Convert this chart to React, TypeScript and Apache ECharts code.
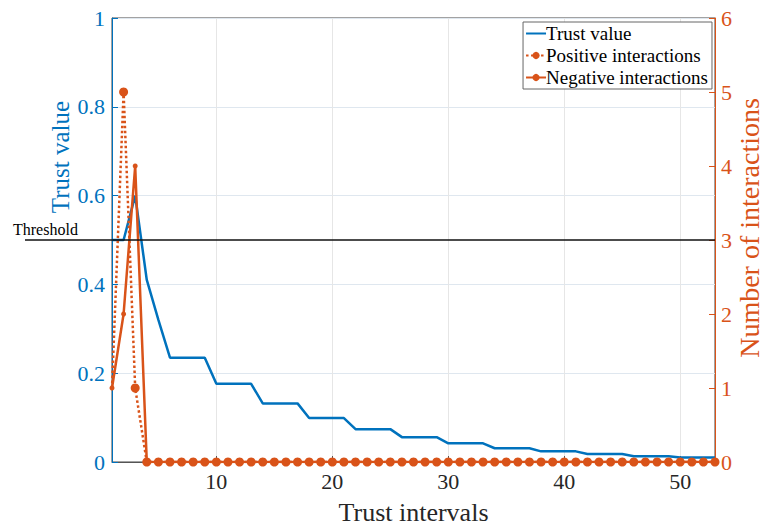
import React, { useEffect, useRef } from "react";
import * as echarts from "echarts";

const intervals = [
  1, 2, 3, 4, 5, 6, 7, 8, 9, 10, 11, 12, 13, 14, 15, 16, 17, 18, 19, 20,
  21, 22, 23, 24, 25, 26, 27, 28, 29, 30, 31, 32, 33, 34, 35, 36, 37, 38, 39, 40,
  41, 42, 43, 44, 45, 46, 47, 48, 49, 50, 51, 52, 53,
];

const trustValue = [
  0.5, 0.5, 0.6, 0.41, 0.32,
  0.235, 0.235, 0.235, 0.235,
  0.176, 0.176, 0.176, 0.176,
  0.132, 0.132, 0.132, 0.132,
  0.099, 0.099, 0.099, 0.099,
  0.074, 0.074, 0.074, 0.074,
  0.056, 0.056, 0.056, 0.056,
  0.042, 0.042, 0.042, 0.042,
  0.031, 0.031, 0.031, 0.031,
  0.024, 0.024, 0.024, 0.024,
  0.018, 0.018, 0.018, 0.018,
  0.013, 0.013, 0.013, 0.013,
  0.01, 0.01, 0.01, 0.01,
];

const positiveInteractions = [
  1, 5, 1, 0, 0, 0, 0, 0, 0, 0, 0, 0, 0, 0, 0, 0, 0, 0, 0, 0,
  0, 0, 0, 0, 0, 0, 0, 0, 0, 0, 0, 0, 0, 0, 0, 0, 0, 0, 0, 0,
  0, 0, 0, 0, 0, 0, 0, 0, 0, 0, 0, 0, 0,
];

const negativeInteractions = [
  1, 2, 4, 0, 0, 0, 0, 0, 0, 0, 0, 0, 0, 0, 0, 0, 0, 0, 0, 0,
  0, 0, 0, 0, 0, 0, 0, 0, 0, 0, 0, 0, 0, 0, 0, 0, 0, 0, 0, 0,
  0, 0, 0, 0, 0, 0, 0, 0, 0, 0, 0, 0, 0,
];

const xTickLabels = [10, 20, 30, 40, 50];
const thresholdValue = 0.5;

const BLUE = "#0072BD";
const ORANGE = "#D95319";
const FONT = "'Liberation Serif', 'Times New Roman', serif";

export default function App() {
  const ref = useRef<HTMLDivElement>(null);

  useEffect(() => {
    if (!ref.current) return;
    const chart = echarts.init(ref.current, undefined, { renderer: "svg" });

    const option: any = {
      animation: false,
      backgroundColor: "#ffffff",
      grid: {
        left: 112,
        right: 49,
        top: 18,
        bottom: 68,
        show: true,
        borderColor: "#444",
        borderWidth: 1,
        backgroundColor: "transparent",
      },
      legend: {
        orient: "vertical",
        right: 52,
        top: 22,
        padding: [2, 4, 2, 2],
        itemGap: 3,
        itemWidth: 20,
        itemHeight: 9,
        backgroundColor: "#fff",
        borderColor: "#666",
        borderWidth: 1,
        borderRadius: 0,
        align: "left",
        textStyle: { fontFamily: FONT, fontSize: 19, color: "#000", padding: [0, 0, 0, -5] },
        data: [
          { name: "Trust value", itemStyle: { opacity: 0 } },
          { name: "Positive interactions" },
          { name: "Negative interactions" },
        ],
      },
      xAxis: {
        type: "value",
        min: 1,
        max: 53,
        splitNumber: 5,
        name: "Trust intervals",
        nameLocation: "middle",
        nameGap: 37,
        nameTextStyle: { fontFamily: FONT, fontSize: 26, color: "#262626" },
        axisLine: { show: true, lineStyle: { color: "#555", width: 1 } },
        axisTick: { show: true, inside: true, length: 6, customValues: xTickLabels, lineStyle: { color: "#555" } },
        axisLabel: {
          customValues: xTickLabels,
          fontFamily: FONT,
          fontSize: 22,
          color: "#262626",
          margin: 8,
        },
        splitLine: { show: true, lineStyle: { color: "#e6e6e6", width: 1 } },
      },
      yAxis: [
        {
          type: "value",
          min: 0,
          max: 1,
          interval: 0.2,
          position: "left",
          axisLine: { show: true, lineStyle: { color: BLUE, width: 1 } },
          axisTick: { show: true, inside: true, length: 6, lineStyle: { color: BLUE } },
          axisLabel: { fontFamily: FONT, fontSize: 22, color: BLUE, margin: 7 },
          splitLine: { show: true, lineStyle: { color: "#dfe7ef", width: 1 } },
        },
        {
          type: "value",
          min: 0,
          max: 6,
          interval: 1,
          position: "right",
          axisLine: { show: true, lineStyle: { color: ORANGE, width: 1 } },
          axisTick: { show: true, inside: true, length: 6, lineStyle: { color: ORANGE } },
          axisLabel: { fontFamily: FONT, fontSize: 22, color: ORANGE, margin: 6 },
          splitLine: { show: false },
        },
      ],
      series: [
        {
          name: "Trust value",
          type: "line",
          yAxisIndex: 0,
          symbol: "none",
          showSymbol: false,
          color: BLUE,
          lineStyle: { color: BLUE, width: 2.5 },
          data: intervals.map((x, i) => [x, trustValue[i]]),
          z: 2,
        },
        {
          name: "Positive interactions",
          type: "line",
          yAxisIndex: 1,
          symbol: "circle",
          symbolSize: 9,
          color: ORANGE,
          itemStyle: { color: ORANGE },
          lineStyle: { color: ORANGE, width: 2.5, type: [2.5, 2.5] },
          data: intervals.map((x, i) =>
            i === 0
              ? { value: [x, positiveInteractions[i]], symbolSize: 0 }
              : [x, positiveInteractions[i]]
          ),
          z: 3,
        },
        {
          name: "Negative interactions",
          type: "line",
          yAxisIndex: 1,
          symbol: "circle",
          symbolSize: 5,
          color: ORANGE,
          itemStyle: { color: ORANGE },
          lineStyle: { color: ORANGE, width: 2.5 },
          data: intervals.map((x, i) => [x, negativeInteractions[i]]),
          z: 4,
        },
      ],
    };

    chart.setOption(option);

    const yTh = chart.convertToPixel({ yAxisIndex: 0 }, thresholdValue) as number;
    const xEnd = chart.convertToPixel({ xAxisIndex: 0 }, intervals[intervals.length - 1]) as number;
    const yMid0 = chart.convertToPixel({ yAxisIndex: 1 }, 3) as number;

    chart.setOption({
      graphic: [
        {
          type: "line",
          shape: { x1: 25, y1: yTh, x2: xEnd, y2: yTh },
          style: { stroke: "#111", lineWidth: 1.5 },
          z: 10,
        },
        {
          type: "text",
          x: 13,
          y: yTh - 3,
          style: {
            text: "Threshold",
            fontFamily: FONT,
            fontSize: 16,
            fill: "#000",
            textAlign: "left",
            textVerticalAlign: "bottom",
          },
          z: 10,
        },
        {
          type: "text",
          x: 60,
          y: 157,
          rotation: Math.PI / 2,
          style: {
            text: "Trust value",
            fontFamily: FONT,
            fontSize: 25,
            fill: BLUE,
            textAlign: "center",
            textVerticalAlign: "middle",
          },
          z: 10,
        },
        {
          type: "text",
          x: 749,
          y: yMid0 - 12,
          rotation: Math.PI / 2,
          style: {
            text: "Number of interactions",
            fontFamily: FONT,
            fontSize: 28,
            fill: ORANGE,
            textAlign: "center",
            textVerticalAlign: "middle",
          },
          z: 10,
        },
      ],
    });

    return () => {
      chart.dispose();
    };
  }, []);

  return <div ref={ref} style={{ width: 764, height: 530, position: "absolute", left: 0, top: 0 }} />;
}
